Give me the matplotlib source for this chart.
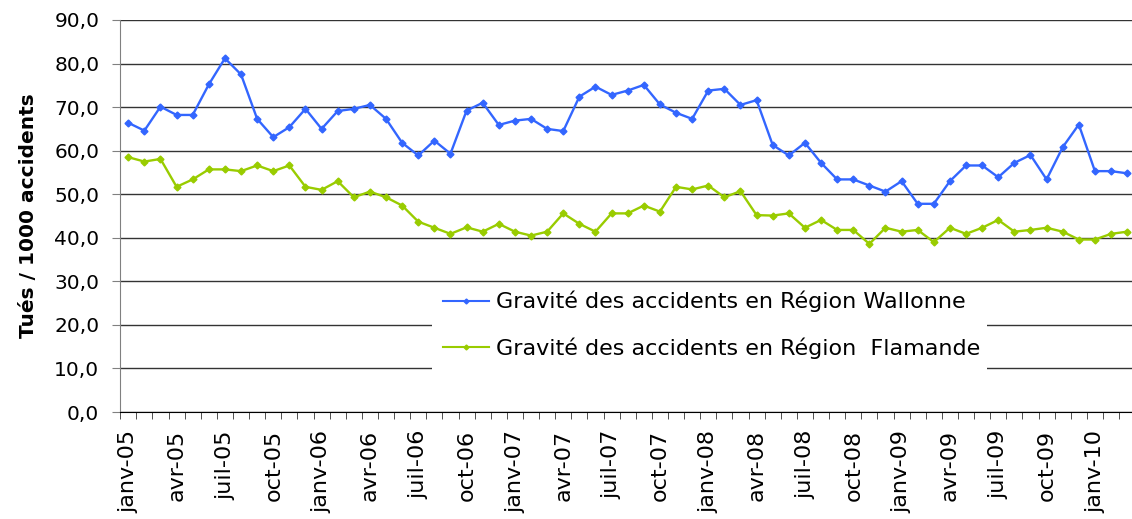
import numpy as np
import matplotlib.pyplot as plt
from matplotlib.patches import Rectangle
from matplotlib.ticker import FuncFormatter

# monthly values, janv-05 .. mars-10
wallonie = [66.4, 64.6, 70.1, 68.2, 68.2, 75.2, 81.2, 77.5, 67.3, 63.1,
            65.4, 69.6, 65.0, 69.1, 69.6, 70.5, 67.3, 61.8, 58.9, 62.3,
            59.3, 69.2, 71.0, 65.9, 66.9, 67.3, 65.0, 64.5, 72.4, 74.7,
            72.8, 73.8, 75.1, 70.6, 68.7, 67.3, 73.8, 74.2, 70.5, 71.6,
            61.3, 58.9, 61.8, 57.2, 53.4, 53.4, 52.0, 50.6, 53.0, 47.8,
            47.8, 53.0, 56.6, 56.6, 53.9, 57.2, 59.0, 53.4, 60.8, 66.0,
            55.3, 55.3, 54.8]
flandre = [58.5, 57.5, 58.1, 51.7, 53.4, 55.7, 55.7, 55.3, 56.6, 55.3,
           56.6, 51.7, 51.0, 53.0, 49.3, 50.6, 49.3, 47.4, 43.7, 42.3,
           40.9, 42.4, 41.4, 43.2, 41.4, 40.5, 41.4, 45.6, 43.2, 41.4,
           45.6, 45.6, 47.4, 46.0, 51.7, 51.1, 52.0, 49.3, 50.7, 45.2,
           45.1, 45.6, 42.3, 44.1, 41.8, 41.8, 38.6, 42.3, 41.4, 41.8,
           39.0, 42.3, 40.9, 42.3, 44.1, 41.4, 41.8, 42.3, 41.4, 39.6,
           39.6, 40.9, 41.4]

mois = ["janv", "févr", "mars", "avr", "mai", "juin",
        "juil", "août", "sept", "oct", "nov", "déc"]
labels = ["%s-%02d" % (mois[i % 12], 5 + i // 12) for i in range(len(wallonie))]

label_w = "Gravité des accidents en Région Wallonne"
label_f = "Gravité des accidents en Région  Flamande"

plt.rcParams["font.family"] = ["DejaVu Sans"]

fig = plt.figure(figsize=(11.32, 5.19), dpi=100)
ax = fig.add_axes([120.2 / 1132, 107 / 519, 1015 / 1132, 392 / 519])

x = np.arange(len(wallonie))
ax.plot(x, wallonie, color="#3366FF", lw=1.7, marker="D", ms=3.5, label=label_w, zorder=3)
ax.plot(x, flandre, color="#99CC00", lw=1.7, marker="D", ms=3.5, label=label_f, zorder=3)

ax.set_ylim(0, 90)
ax.set_xlim(-0.5, len(x) - 0.5)
ax.set_yticks(np.arange(0, 91, 10))
ax.yaxis.set_major_formatter(FuncFormatter(lambda v, p: ("%.1f" % v).replace(".", ",")))
ax.yaxis.grid(True, color="#333333", lw=1)
ax.set_axisbelow(True)

# ticks between categories, labels every 3 months
ax.set_xticks(np.arange(-0.5, len(x), 1), minor=True)
ax.set_xticks(x[::3])
ax.set_xticklabels(labels[::3], rotation=90)
ax.tick_params(axis="x", which="major", length=0, pad=13, labelsize=16)
ax.tick_params(axis="x", which="minor", length=5, color="#333333")
ax.tick_params(axis="y", length=6, color="#808080", labelsize=14.5, pad=9)

for s in ["top", "right"]:
    ax.spines[s].set_visible(False)
ax.spines["left"].set_color("#808080")
ax.spines["bottom"].set_color("#000000")

ax.set_ylabel("Tués / 1000 accidents", fontsize=14.5, fontweight="bold", labelpad=12)

# white legend area hiding the grid
ax.add_patch(Rectangle((0.307, 0.092), 0.547, 0.232, transform=ax.transAxes,
                       facecolor="white", edgecolor="none", zorder=1))
leg = ax.legend(loc="upper left", bbox_to_anchor=(0.318, 0.309),
                frameon=False, fontsize=16, handlelength=2.05,
                handletextpad=0.32, labelspacing=1.14, borderpad=0,
                borderaxespad=0)
for h in leg.legend_handles:
    h.set_markersize(2.5)
    h.set_linewidth(1.5)

fig.savefig("out.png", dpi=100)
